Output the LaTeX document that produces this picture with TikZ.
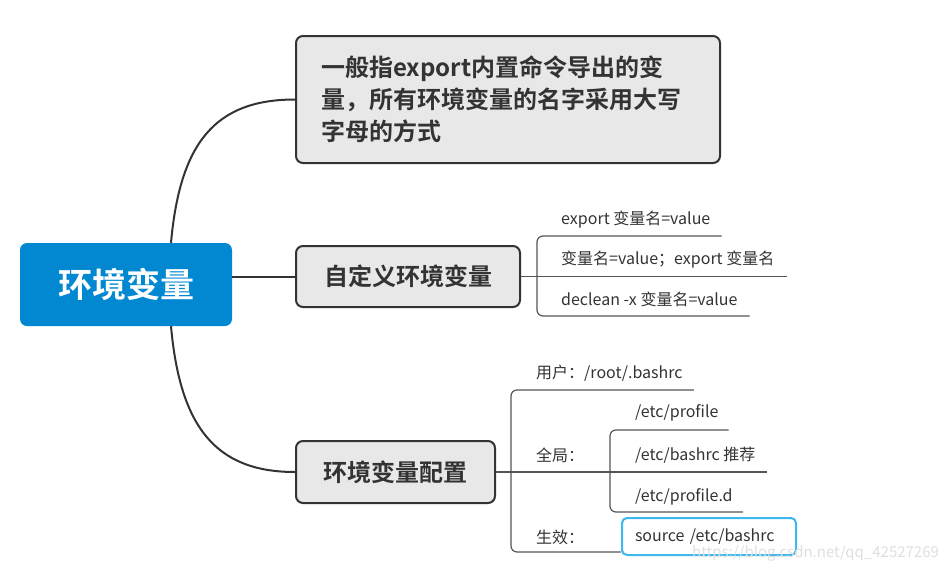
\documentclass[tikz,border=0pt]{standalone}
\usepackage{fontspec}
\setmainfont{Noto Sans CJK SC}[BoldFont=* Bold]
\usetikzlibrary{positioning,calc}
\definecolor{rootblue}{HTML}{0288D1}
\definecolor{boxgray}{HTML}{E8E8E8}
\definecolor{ink}{HTML}{333333}
\definecolor{twiggray}{HTML}{555555}
\definecolor{srcblue}{HTML}{3DB8EE}

\begin{document}
\begin{tikzpicture}[x=1pt,y=-1pt,
  topic/.style={draw=ink,line width=2pt,fill=boxgray,rounded corners=7pt,
    font=\bfseries\fontsize{24}{32}\selectfont,text=ink,inner sep=0pt},
  leaf/.style={font=\fontsize{16}{18}\selectfont,text=ink,anchor=west,inner sep=0pt},
  branch/.style={draw=ink,line width=2pt},
  twig/.style={draw=twiggray,line width=1.2pt,rounded corners=6pt}]
  \useasboundingbox (0,0) rectangle (945,574);

  % Root
  \node[fill=rootblue,rounded corners=7pt,minimum width=212pt,minimum height=83pt,
    text=white,font=\bfseries\fontsize{34}{34}\selectfont] (root) at (126,284.5) {环境变量};

  % Main topics
  \node[topic,minimum width=424pt,minimum height=127pt,text width=374pt,
    inner xsep=25pt,align=left] (def) at (508,99.5)
    {一般指export内置命令导出的变\\量，所有环境变量的名字采用大写\\字母的方式};
  \node[topic,minimum width=224pt,minimum height=61pt] (custom) at (408,276.5) {自定义环境变量};
  \node[topic,minimum width=199pt,minimum height=62pt] (config) at (395.5,472) {环境变量配置};

  \draw[branch] ([xshift=45pt]root.north) .. controls +(9,-100) and +(-80,0) .. (def.west);
  \draw[branch] (root.east |- custom.west) -- (custom.west);
  \draw[branch] ([xshift=45pt]root.south) .. controls +(9,100) and +(-80,0) .. (config.west);

  % Custom variables
  \node[leaf] (exp) at (561,220) {export 变量名=value};
  \node[leaf] (set) at (561,260) {变量名=value；export 变量名};
  \node[leaf] (decl) at (561,299) {declean -x 变量名=value};
  \coordinate (expend) at ($(exp.east)+(11,16)$);
  \coordinate (setend) at ($(set.east)+(12,0)$);
  \coordinate (declend) at ($(decl.east)+(12,17)$);
  \coordinate (sp2) at (537,276.5);
  \draw[twig] (expend) -| (sp2) |- (declend);
  \draw[twig] (custom.east) -- (setend |- custom.east);

  % Configuration files
  \node[leaf] (user) at (536,373) {用户：/root/.bashrc};
  \node[leaf] (global) at (536,455) {全局：};
  \node[leaf] (apply) at (536,537) {生效：};
  \node[draw=srcblue,line width=2pt,rounded corners=5pt,minimum width=174pt,
    minimum height=37pt,text width=148pt,inner xsep=13pt,align=left,
    font=\fontsize{16}{18}\selectfont,text=ink] (src) at (709,536.5) {source /etc/bashrc};
  \coordinate (userend) at ($(user.east)+(11,17)$);
  \coordinate (sp3) at (511,472);
  \coordinate (applyend) at (src.west |- 0,552);
  \draw[twig] (userend) -| (sp3) |- (applyend);

  \node[leaf] (prof) at (635,413) {/etc/profile};
  \node[leaf] (brc) at (635,455) {/etc/bashrc 推荐};
  \node[leaf] (profd) at (635,497) {/etc/profile.d};
  \coordinate (profend) at ($(prof.east)+(10,17)$);
  \coordinate (brcend) at ($(brc.east)+(11,0)$);
  \coordinate (profdend) at ($(profd.east)+(10,15)$);
  \coordinate (sp4) at (610,472);
  \draw[twig] (profend) -| (sp4) |- (profdend);
  \draw[twig] (config.east) -- (brcend |- config.east);

  % Watermark
  \node[anchor=west,inner sep=0pt,font=\fontsize{15}{15}\selectfont,text=gray!25] (mark)
    at (692,553) {https://blog.csdn.net/qq\_42527269};
\end{tikzpicture}
\end{document}
